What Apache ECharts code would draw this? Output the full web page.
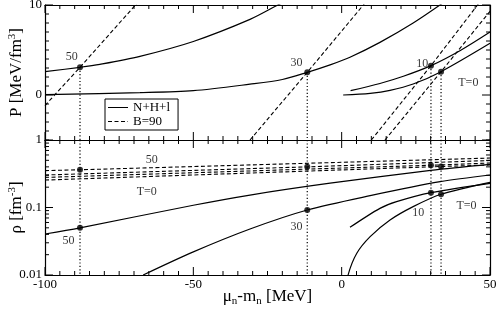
<!DOCTYPE html>
<html>
<head>
<meta charset="utf-8">
<script src="https://cdn.jsdelivr.net/npm/echarts@6/dist/echarts.min.js"></script>
<style>html,body{margin:0;padding:0;background:#fff}#c{width:498px;height:311px}</style>
</head>
<body>
<div id="c"></div>
<script>
// ---------- data (mu_n - m_n [MeV], value) ----------
const P_had_T50 = [[-100,2.59],[-88.2,3.08],[-81.5,3.41],[-68,4.3],[-50,5.95],[-30.9,8.4],[-21.5,10.0],[-18,10.6]];
const P_had_T30 = [[-100,0.05],[-68,0.26],[-50,0.48],[-30.9,1.2],[-20,1.72],[-11.6,2.52],[-3.9,3.35],[2.8,4.2],[12.9,5.85],[24.1,8.0],[34,10.2]];
const P_had_T10 = [[3.0,0.48],[12.9,1.28],[20.8,2.08],[30.1,3.26],[40,4.95],[50,7.0]];
const P_had_T0  = [[0.5,0.0],[9.6,0.19],[16.3,0.52],[24.1,1.22],[33.5,2.59],[50,5.74]];
const P_bag_T50 = [[-100,-1.17],[-88.2,3.08],[-69.5,10.0],[-67,11]];
const P_bag_T30 = [[-30.9,-5],[-11.6,2.52],[7.3,10],[9,10.7]];
const P_bag_T10 = [[10.0,-5],[30.1,3.26],[45.8,10],[47,10.5]];
const P_bag_T0  = [[14.6,-5],[33.5,2.59],[50,9.3]];
const rho_had_T50 = [[-100,0.0405],[-88.2,0.050],[-50,0.108],[-30.9,0.153],[-3.9,0.229],[30,0.355],[50,0.435]];
const rho_had_T30 = [[-66.9,0.01],[-50,0.022],[-30.9,0.048],[-11.6,0.0918],[10,0.151],[33.2,0.241],[50,0.303]];
const rho_had_T10 = [[2.8,0.0508],[12.9,0.097],[18.5,0.122],[30.1,0.166],[50,0.228]];
const rho_had_T0  = [[1.7,0.006],[2.2,0.0101],[5.1,0.021],[9.6,0.037],[16.3,0.0653],[24.1,0.103],[33.5,0.157],[50,0.236]];
const rho_bag_T50 = [[-100,0.352],[-88.2,0.362],[50,0.54]];
const rho_bag_T30 = [[-100,0.303],[-11.6,0.40],[50,0.497]];
const rho_bag_T10 = [[-100,0.279],[30.1,0.423],[50,0.456]];
const rho_bag_T0  = [[-100,0.255],[33.5,0.405],[50,0.426]];
const crossMu      = [-88.2, -11.6, 30.1, 33.5];
const crossP       = [3.08, 2.52, 3.26, 2.59];
const crossRhoBag  = [0.362, 0.40, 0.423, 0.405];
const crossRhoHad  = [0.050, 0.0918, 0.166, 0.157];
const labelsTop    = [[-91,4.26,'50'],[-15.2,3.6,'30'],[27.2,3.5,'10'],[42.7,1.37,'T=0']];
const labelsBottom = [[-64,0.505,'50'],[-65.7,0.171,'T=0'],[-92.1,0.0322,'50'],[-15.2,0.0509,'30'],[25.8,0.082,'10'],[42.1,0.105,'T=0']];
// axis ranges / tick values
const muRange = [-100, 50];
const muMajorTicks = [-100, -50, 0, 50];
const muTickStep = 5;
const pRange = [-5, 10];
const pMajorTicks = [0, 10];
const pTickStep = 1;
const rhoRange = [0.01, 1];
const rhoMajorTicks = [0.01, 0.1, 1];
const rhoMinorTicks = [0.02,0.03,0.04,0.05,0.06,0.07,0.08,0.09,0.2,0.3,0.4,0.5,0.6,0.7,0.8,0.9];

// ---------- chart ----------
const FONT = 'Liberation Serif';
const BLACK = '#000';
const GRID_W = 445, GRID_H = 135;
const RICH = {
  a:{fontFamily:FONT, fontSize:17, color:BLACK, lineHeight:20},
  s:{fontFamily:FONT, fontSize:11, color:BLACK, lineHeight:20, verticalAlign:'top', padding:[0,0,8,0]},
  b:{fontFamily:FONT, fontSize:11, color:BLACK, lineHeight:20, verticalAlign:'bottom', padding:[6,0,0,0]}
};
const chart = echarts.init(document.getElementById('c'));

const muTicks = [];
for (let v = muRange[0]; v <= muRange[1] + 1e-9; v += muTickStep) muTicks.push(v);
const pTicks = [];
for (let v = pRange[0]; v <= pRange[1] + 1e-9; v += pTickStep) pTicks.push(v);
const rhoTicks = rhoMajorTicks.concat(rhoMinorTicks);

// tick length in px -> data units of each scale
const muPerPx = (muRange[1] - muRange[0]) / GRID_W;
const pPerPx = (pRange[1] - pRange[0]) / GRID_H;
const decPerPx = (Math.log10(rhoRange[1]) - Math.log10(rhoRange[0])) / GRID_H;
const tickLen = (v, majors) => (majors.indexOf(v) >= 0 ? 8 : 4);

function xAx(grid, pos, withLabels) {
  return {
    type:'value', gridIndex:grid, position:pos, min:muRange[0], max:muRange[1], interval:50,
    axisLine:{show:true, onZero:false, lineStyle:{color:BLACK, width:1.2}},
    axisTick:{show:false}, minorTick:{show:false},
    splitLine:{show:false}, minorSplitLine:{show:false},
    axisLabel:{show:withLabels, margin:3, color:BLACK, fontFamily:FONT, fontSize:13, showMinLabel:true, showMaxLabel:true}
  };
}
function pAx(pos, withLabels) {
  return {
    type:'value', gridIndex:0, position:pos, min:pRange[0], max:pRange[1], interval:1,
    axisLine:{show:true, onZero:false, lineStyle:{color:BLACK, width:1.2}},
    axisTick:{show:false}, splitLine:{show:false},
    axisLabel:{show:withLabels, margin:3, color:BLACK, fontFamily:FONT, fontSize:13, showMaxLabel:true,
      formatter: v => (pMajorTicks.indexOf(v) >= 0 ? String(v) : '')}
  };
}
function rhoAx(pos, withLabels) {
  return {
    type:'log', logBase:10, gridIndex:1, position:pos, min:rhoRange[0], max:rhoRange[1],
    axisLine:{show:true, onZero:false, lineStyle:{color:BLACK, width:1.2}},
    axisTick:{show:false}, splitLine:{show:false},
    axisLabel:{show:withLabels, margin:3, color:BLACK, fontFamily:FONT, fontSize:13, showMinLabel:true, showMaxLabel:true,
      formatter: v => String(+(+v).toPrecision(3))}
  };
}

const solid = (d,xi,yi) => ({type:'line', name:'N+H+l', xAxisIndex:xi, yAxisIndex:yi, data:d, symbol:'none',
  smooth:0.3, clip:true, itemStyle:{color:BLACK}, lineStyle:{color:BLACK, width:1.2, type:'solid'}, z:3});
const dashed = (d,xi,yi) => ({type:'line', name:'B=90', xAxisIndex:xi, yAxisIndex:yi, data:d, symbol:'none',
  smooth:false, clip:true, itemStyle:{color:BLACK}, lineStyle:{color:BLACK, width:1.1, type:[4,2.5]}, z:3});
const dotted = (d,xi,yi) => ({type:'line', name:'guide', xAxisIndex:xi, yAxisIndex:yi, data:d, symbol:'none',
  clip:true, lineStyle:{color:BLACK, width:1.2, type:[1.2,2.2]}, z:2});
const dots = (d,xi,yi) => ({type:'scatter', name:'pt', xAxisIndex:xi, yAxisIndex:yi, data:d, symbol:'circle',
  symbolSize:6, itemStyle:{color:BLACK}, z:5});
const texts = (d,xi,yi) => ({type:'scatter', name:'txt', xAxisIndex:xi, yAxisIndex:yi, data:d, symbolSize:0,
  label:{show:true, position:'inside', formatter:p => p.data[2], color:BLACK, fontFamily:FONT, fontSize:12}, z:6});
// tick marks drawn as broken line series through the axes' own scales
const tickLine = (d,xi,yi) => ({type:'line', name:'ticks', xAxisIndex:xi, yAxisIndex:yi, data:d, symbol:'none',
  clip:false, silent:true, connectNulls:false, lineStyle:{color:BLACK, width:1, type:'solid'}, z:4});

// top panel ticks
const topTicks = [];
muTicks.forEach(v => {
  const d = tickLen(v, muMajorTicks) * pPerPx;
  topTicks.push([v, pRange[0]], [v, pRange[0] + d], [v, '-']);
  topTicks.push([v, pRange[1]], [v, pRange[1] - d], [v, '-']);
});
pTicks.forEach(v => {
  const d = tickLen(v, pMajorTicks) * muPerPx;
  topTicks.push([muRange[0], v], [muRange[0] + d, v], ['-', v]);
  topTicks.push([muRange[1], v], [muRange[1] - d, v], ['-', v]);
});
// bottom panel ticks
const botTicks = [];
muTicks.forEach(v => {
  const f = Math.pow(10, tickLen(v, muMajorTicks) * decPerPx);
  botTicks.push([v, rhoRange[0]], [v, rhoRange[0] * f], [v, '-']);
  botTicks.push([v, rhoRange[1]], [v, rhoRange[1] / f], [v, '-']);
});
rhoTicks.forEach(v => {
  const d = tickLen(v, rhoMajorTicks) * muPerPx;
  botTicks.push([muRange[0], v], [muRange[0] + d, v], ['-', v]);
  botTicks.push([muRange[1], v], [muRange[1] - d, v], ['-', v]);
});

const series = [
  solid(P_had_T50,0,0), solid(P_had_T30,0,0), solid(P_had_T10,0,0), solid(P_had_T0,0,0),
  dashed(P_bag_T50,0,0), dashed(P_bag_T30,0,0), dashed(P_bag_T10,0,0), dashed(P_bag_T0,0,0),
  solid(rho_had_T50,2,2), solid(rho_had_T30,2,2), solid(rho_had_T10,2,2), solid(rho_had_T0,2,2),
  dashed(rho_bag_T50,2,2), dashed(rho_bag_T30,2,2), dashed(rho_bag_T10,2,2), dashed(rho_bag_T0,2,2)
];
crossMu.forEach((m,i) => {
  series.push(dotted([[m, crossP[i]],[m, pRange[0]]],0,0));
  series.push(dotted([[m, rhoRange[1]],[m, rhoRange[0]]],2,2));
});
series.push(dots(crossMu.map((m,i)=>[m, crossP[i]]),0,0));
series.push(dots(crossMu.map((m,i)=>[m, crossRhoBag[i]]),2,2));
series.push(dots(crossMu.map((m,i)=>[m, crossRhoHad[i]]),2,2));
series.push(texts(labelsTop,0,0));
series.push(texts(labelsBottom,2,2));
series.push(tickLine(topTicks,0,0));
series.push(tickLine(botTicks,2,2));

const solidIcon = 'path://M0,0H20V1H0Z';
const dashIcon = 'path://M0,0H4V1H0Z M6.5,0H10.5V1H6.5Z M13,0H17V1H13Z M19.5,0H20V1H19.5Z';

const option = {
  animation:false,
  backgroundColor:'#fff',
  grid:[
    {left:45, top:5, width:GRID_W, height:GRID_H, outerBoundsMode:'none', containLabel:false},
    {left:45, top:140, width:GRID_W, height:GRID_H, outerBoundsMode:'none', containLabel:false}
  ],
  legend:{
    data:[{name:'N+H+l', icon:solidIcon, itemStyle:{color:BLACK, borderWidth:0}},
          {name:'B=90', icon:dashIcon, itemStyle:{color:BLACK, borderWidth:0}}],
    orient:'vertical', left:105, top:99, borderColor:BLACK, borderWidth:1, borderRadius:0,
    padding:[2,8,2,3], itemGap:1, itemWidth:20, itemHeight:12, selectedMode:false,
    textStyle:{fontFamily:FONT, fontSize:13, color:BLACK}
  },
  xAxis:[ xAx(0,'bottom',false), xAx(0,'top',false), xAx(1,'bottom',true), xAx(1,'top',false) ],
  yAxis:[ pAx('left',true), pAx('right',false), rhoAx('left',true), rhoAx('right',false) ],
  graphic:[
    {type:'text', x:267.5, y:297, style:{text:'{a|μ}{b|n}{a|-m}{b|n}{a| [MeV]}', rich:RICH, align:'center', verticalAlign:'middle'}},
    {type:'text', x:17, y:72.5, rotation:Math.PI/2, style:{text:'{a|P [MeV/fm}{s|3}{a|]}', rich:RICH, align:'center', verticalAlign:'middle'}},
    {type:'text', x:17, y:207.5, rotation:Math.PI/2, style:{text:'{a|ρ [fm}{s|-3}{a|]}', rich:RICH, align:'center', verticalAlign:'middle'}}
  ],
  series: series
};
chart.setOption(option);
</script>
</body>
</html>
